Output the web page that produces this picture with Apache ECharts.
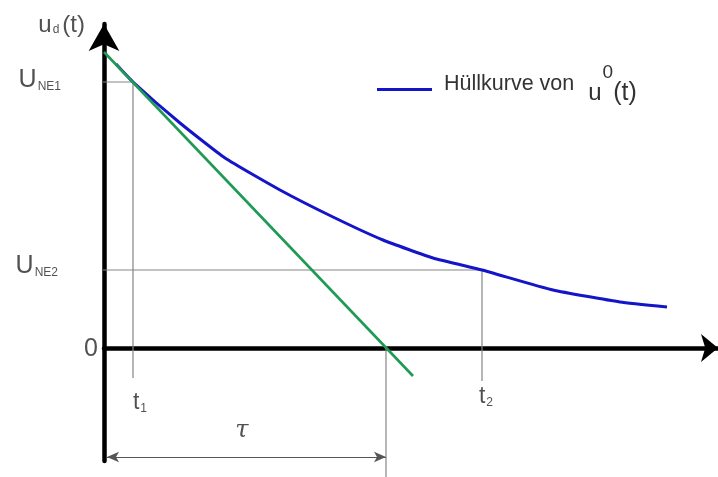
<!DOCTYPE html>
<html>
<head>
<meta charset="utf-8">
<script src="https://cdn.jsdelivr.net/npm/echarts@6/dist/echarts.min.js"></script>
<style>
  html, body { margin: 0; padding: 0; background: #fff; }
  #chart { width: 718px; height: 477px; }
</style>
</head>
<body>
<div id="chart"></div>
<script>
// Envelope of u0(t): decaying curve (time in arbitrary units, voltage in arbitrary units)
const envelopeT = [0.12, 0.29, 0.76, 1.21, 1.76, 2.29, 2.79, 3.29, 3.78, 4.49, 5.16, 5.63];
const envelopeU = [2.84, 2.66, 2.25, 1.90, 1.58, 1.31, 1.08, 0.90, 0.78, 0.58, 0.46, 0.41];

// Tangent to the envelope at t1
const tangentT = [0, 3.09];
const tangentU = [2.96, -0.28];

// Characteristic points
const t1 = 0.29, t2 = 3.78, tau = 2.82;
const uNe1 = 2.66, uNe2 = 0.78;

// Text labels
const yAxisTitle = ['u', 'd', '(t)'];
const legendText = ['Hüllkurve von', 'u', '0', '(t)'];
const levelLabels = [['U', 'NE1'], ['U', 'NE2']];
const timeLabels = [['t', '1'], ['t', '2']];
const tauLabel = 'τ';
const zeroLabel = '0';

// Drawing extents for the helper lines
const guideLeft1 = -0.32, guideLeft2 = -0.37;
const dropT1 = -0.30, dropT2 = -0.33;
const tauLineBottom = -1.29, tauArrowY = -1.09, tauArrowStart = 0.03;
const titleAnchorU = 3.11;

const TEXT = '#262626';
const LEGEND_TEXT = '#333';
const GUIDE = '#858585';
const FONT = 'Liberation Sans, Arial, sans-serif';

const zip = (a, b) => a.map((v, i) => [v, b[i]]);

function guide(data) {
  return {
    type: 'line', data, symbol: 'none', clip: false, silent: true,
    lineStyle: { color: GUIDE, width: 1.2 }, z: 1
  };
}

const chart = echarts.init(document.getElementById('chart'));
chart.setOption({
  animation: false,
  backgroundColor: '#fff',
  grid: { left: 104, right: 0, top: 24, bottom: 16 },
  xAxis: {
    type: 'value', min: 0, max: 6.14,
    axisLine: { onZero: true, symbol: ['none', 'arrow'], symbolSize: [21, 17],
      lineStyle: { color: '#000', width: 4.5 } },
    axisTick: { show: false }, axisLabel: { show: false }, splitLine: { show: false }
  },
  yAxis: {
    type: 'value', min: -1.13, max: 3.24,
    axisLine: { show: true, onZero: false, symbol: ['none', 'arrow'], symbolSize: [23, 27],
      lineStyle: { color: '#000', width: 4.5 } },
    axisTick: { show: false }, axisLabel: { show: false }, splitLine: { show: false }
  },
  legend: {
    data: ['envelope'],
    left: 372, top: 58,
    icon: 'rect',
    itemWidth: 55, itemHeight: 3,
    formatter: () => `{a|${legendText[0]}}{u|${legendText[1]}}{sup|${legendText[2]}}{p|${legendText[3]}}`,
    textStyle: {
      rich: {
        a: { fontFamily: FONT, fontSize: 21.5, color: LEGEND_TEXT, padding: [0, 0, 10, 7] },
        u: { fontFamily: FONT, fontSize: 24, color: LEGEND_TEXT, padding: [8, 0, 0, 14] },
        sup: { fontFamily: FONT, fontSize: 19, color: LEGEND_TEXT, padding: [0, 0, 34, 1] },
        p: { fontFamily: FONT, fontSize: 25, color: LEGEND_TEXT, padding: [8, 0, 0, 0] }
      }
    }
  },
  series: [
    guide([[guideLeft1, uNe1], [t1, uNe1], [t1, dropT1]]),
    guide([[guideLeft2, uNe2], [t2, uNe2], [t2, dropT2]]),
    Object.assign(guide([[tau, 0], [tau, tauLineBottom]]), {
      markLine: {
        silent: true, symbol: ['arrow', 'arrow'], symbolSize: [8, 12],
        label: { show: false },
        lineStyle: { color: '#555', width: 1.2, type: 'solid' },
        data: [[{ coord: [tauArrowStart, tauArrowY] }, { coord: [tau, tauArrowY] }]]
      }
    }),
    {
      name: 'envelope', type: 'line', data: zip(envelopeT, envelopeU),
      symbol: 'none', smooth: 0.15, z: 3,
      lineStyle: { color: '#1414c8', width: 3 }, itemStyle: { color: '#1414c8' }
    },
    {
      type: 'line', data: zip(tangentT, tangentU), symbol: 'none', z: 4, clip: false,
      lineStyle: { color: '#1f9a55', width: 2.6 }
    },
    {
      type: 'scatter', symbolSize: 0, clip: false, silent: true, z: 5,
      label: {
        show: true, color: TEXT, fontFamily: FONT,
        rich: {
          big: { fontFamily: FONT, fontSize: 25, color: TEXT },
          sub: { fontFamily: FONT, fontSize: 12, color: TEXT, padding: [14, 0, 0, 1] },
          t: { fontFamily: FONT, fontSize: 23, color: TEXT },
          tsub: { fontFamily: FONT, fontSize: 12, color: TEXT, padding: [12, 0, 0, 1] },
          u: { fontFamily: FONT, fontSize: 24, color: TEXT },
          usub: { fontFamily: FONT, fontSize: 12, color: TEXT, padding: [10, 0, 0, 1] },
          par: { fontFamily: FONT, fontSize: 24, color: TEXT, padding: [0, 0, 0, 3] },
          tau: { fontFamily: 'DejaVu Serif, serif', fontStyle: 'italic', fontSize: 24, color: TEXT }
        }
      },
      data: [
        { value: [0, titleAnchorU], label: { position: 'left', distance: 19, offset: [0, -12],
          formatter: `{u|${yAxisTitle[0]}}{usub|${yAxisTitle[1]}}{par|${yAxisTitle[2]}}` } },
        { value: [guideLeft1, uNe1], label: { position: 'left', distance: 11, offset: [0, -2],
          formatter: `{big|${levelLabels[0][0]}}{sub|${levelLabels[0][1]}}` } },
        { value: [guideLeft2, uNe2], label: { position: 'left', distance: 9, offset: [0, -4],
          formatter: `{big|${levelLabels[1][0]}}{sub|${levelLabels[1][1]}}` } },
        { value: [0, 0], label: { position: 'left', distance: 6, offset: [0, 1],
          formatter: `{big|${zeroLabel}}` } },
        { value: [t1, dropT1], label: { position: 'bottom', distance: 13, offset: [7, 0],
          formatter: `{t|${timeLabels[0][0]}}{tsub|${timeLabels[0][1]}}` } },
        { value: [t2, dropT2], label: { position: 'bottom', distance: 4, offset: [4, 0],
          formatter: `{t|${timeLabels[1][0]}}{tsub|${timeLabels[1][1]}}` } },
        { value: [1.38, tauArrowY], label: { position: 'top', distance: 14,
          formatter: `{tau|${tauLabel}}` } }
      ]
    }
  ]
});
</script>
</body>
</html>
